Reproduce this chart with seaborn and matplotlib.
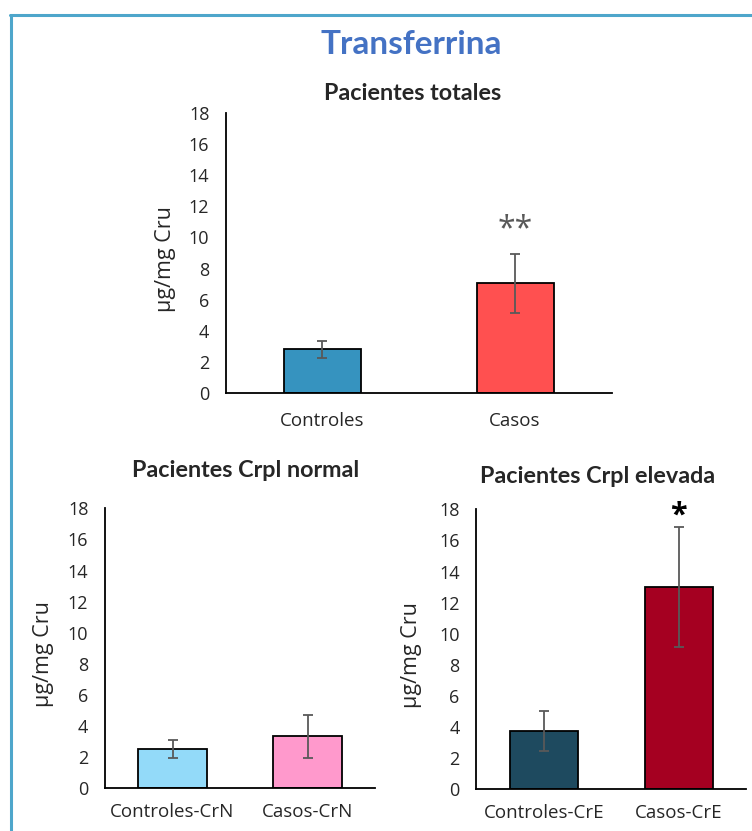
import matplotlib
matplotlib.use("Agg")
import matplotlib.pyplot as plt
from matplotlib.lines import Line2D
import seaborn as sns
import pandas as pd

# Data
total_groups = ["Controles", "Casos"]
total_means = [2.80, 7.05]
total_errs = [0.52, 1.90]

normal_groups = ["Controles-CrN", "Casos-CrN"]
normal_means = [2.55, 3.35]
normal_errs = [0.58, 1.38]

elev_groups = ["Controles-CrE", "Casos-CrE"]
elev_means = [3.77, 13.00]
elev_errs = [1.29, 3.87]

yticks = [0, 2, 4, 6, 8, 10, 12, 14, 16, 18]

sns.set_style("white")
plt.rcParams["font.family"] = ["Open Sans", "DejaVu Sans"]

fig = plt.figure(figsize=(7.52, 8.31), dpi=100)

# Frame lines around the figure
frame_col = "#4EA6CB"
fig.add_artist(Line2D([10 / 752, 1.0], [1 - 15 / 831, 1 - 15 / 831],
                      transform=fig.transFigure, color=frame_col, lw=2.2))
fig.add_artist(Line2D([10.5 / 752, 10.5 / 752], [0.0, 1 - 15 / 831],
                      transform=fig.transFigure, color=frame_col, lw=2.2))

fig.text(411 / 752, 1 - 44 / 831, "Transferrina", ha="center", va="center",
         fontsize=24, fontweight="bold", color="#4472C4", family="Lato")


def panel(rect, groups, means, errs, colors, bar_w, title, title_x, title_pad,
          ylab_x, xtick_pad, star=None):
    ax = fig.add_axes(rect)
    df = pd.DataFrame({"grupo": groups, "valor": means})
    sns.barplot(data=df, x="grupo", y="valor", hue="grupo", palette=colors,
                legend=False, errorbar=None, width=bar_w, saturation=1,
                edgecolor="black", linewidth=1.3, ax=ax)
    ax.errorbar(range(len(groups)), means, yerr=errs, fmt="none",
                ecolor="#595959", elinewidth=1.3, capsize=3.5, capthick=1.3)
    ax.set_xlim(-0.5, 1.5)
    ax.set_ylim(0, 18)
    ax.set_yticks(yticks)
    ax.tick_params(axis="y", length=0, pad=12, labelsize=13)
    ax.tick_params(axis="x", length=0, pad=xtick_pad, labelsize=13.5)
    ax.set_xlabel("")
    ax.set_ylabel("µg/mg Cru", fontsize=15.5)
    ax.yaxis.set_label_coords(ylab_x, 0.48)
    for s in ("top", "right"):
        ax.spines[s].set_visible(False)
    for s in ("left", "bottom"):
        ax.spines[s].set_color("black")
        ax.spines[s].set_linewidth(1.3)
    ax.set_title(title, fontsize=16.8, fontweight="bold", family="Lato",
                 x=title_x, pad=title_pad)
    if star is not None:
        txt, idx, off, col, wt, fs = star
        ax.text(idx, means[idx] + errs[idx] + off, txt, ha="center",
                va="center", color=col, fontweight=wt, fontsize=fs)
    return ax


panel([226 / 752, 1 - 393 / 831, 385.5 / 752, 280 / 831],
      total_groups, total_means, total_errs, ["#3693BF", "#FF5050"], 0.40,
      "Pacientes totales", 0.485, 9.5, -0.13, 14,
      star=("**", 1, 1.55, "#595959", "normal", 23))

panel([105 / 752, 1 - 788.3 / 831, 270 / 752, 280 / 831],
      normal_groups, normal_means, normal_errs, ["#93DAF9", "#FF99CC"], 0.505,
      "Pacientes Crpl normal", 0.52, 22.5, -0.19, 10.5)

panel([476.3 / 752, 1 - 789.3 / 831, 270 / 752, 280 / 831],
      elev_groups, elev_means, elev_errs, ["#1E4A5F", "#A50021"], 0.505,
      "Pacientes Crpl elevada", 0.45, 19, -0.2, 10.5,
      star=("*", 1, 0.7, "black", "bold", 22))

fig.savefig("out.png", dpi=100)
